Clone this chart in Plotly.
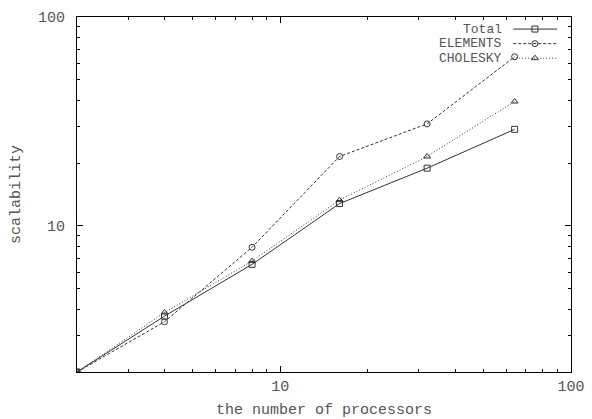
import plotly.graph_objects as go

# ---- data ----
processors = [2, 4, 8, 16, 32, 64]
total = [2.0, 3.70, 6.55, 12.8, 18.9, 29.0]
elements = [2.0, 3.48, 7.91, 21.5, 30.8, 64.5]
cholesky = [2.0, 3.85, 6.79, 13.3, 21.5, 39.4]
series_names = ["Total", "ELEMENTS", "CHOLESKY"]
x_tickvals = [10, 100]
y_tickvals = [10, 100]
minor_vals = [3, 4, 5, 6, 7, 8, 9, 20, 30, 40, 50, 60, 70, 80, 90]

# ---- style ----
FONT = "Liberation Mono, Courier New, monospace"
TXT = "#555555"
LINE = "#333333"
styles = [
    dict(dash="solid", symbol="square-open"),
    dict(dash="3px,2px", symbol="circle-open"),
    dict(dash="1px,2px", symbol="triangle-up-open"),
]
series = [total, elements, cholesky]

fig = go.Figure()
for name, ys, st in zip(series_names, series, styles):
    fig.add_trace(go.Scatter(
        x=processors, y=ys, name=name, mode="lines+markers",
        line=dict(color=LINE, width=1, dash=st["dash"]),
        marker=dict(symbol=st["symbol"], size=6, color=LINE,
                    line=dict(width=1, color=LINE)),
        showlegend=False,
    ))

# ---- manual legend (text left, sample right, like gnuplot) ----
leg_x0, leg_x1, leg_xm = 0.883, 0.972, 0.927
leg_text_x = 0.862
leg_rows = [0.966, 0.925, 0.884]
for name, st, ry in zip(series_names, styles, leg_rows):
    fig.add_trace(go.Scatter(
        x=[leg_x0, leg_x1], y=[ry, ry], mode="lines",
        line=dict(color=LINE, width=1, dash=st["dash"]),
        xaxis="x2", yaxis="y2", showlegend=False, hoverinfo="skip"))
    fig.add_trace(go.Scatter(
        x=[leg_xm], y=[ry], mode="markers",
        marker=dict(symbol=st["symbol"], size=6, color=LINE,
                    line=dict(width=1, color=LINE)),
        xaxis="x2", yaxis="y2", showlegend=False, hoverinfo="skip"))
    fig.add_annotation(x=leg_text_x, y=ry, xref="paper", yref="paper",
                       text=name, showarrow=False, xanchor="right",
                       yanchor="middle", borderpad=0,
                       font=dict(family=FONT, size=13, color=TXT))

axis_common = dict(
    type="log", showgrid=False, zeroline=False, automargin=False,
    showline=True, linecolor="#000000", linewidth=1, mirror="ticks",
    ticks="inside", ticklen=6, tickwidth=1, tickcolor="#000000",
    tickfont=dict(family=FONT, size=15, color=TXT),
    minor=dict(ticks="inside", ticklen=3, tickwidth=1, tickcolor="#000000",
               tickvals=minor_vals, showgrid=False),
)

fig.update_layout(
    width=592, height=419,
    margin=dict(l=77, r=21, t=17, b=47),
    paper_bgcolor="white", plot_bgcolor="white",
    font=dict(family=FONT, size=15, color=TXT),
    xaxis=dict(axis_common, range=[0.30103, 2], tickvals=x_tickvals,
               ticktext=[str(v) for v in x_tickvals],
               ticklabelstandoff=0,
               title=dict(text="the number of processors",
                          font=dict(family=FONT, size=15, color=TXT),
                          standoff=14)),
    yaxis=dict(axis_common, range=[0.30103, 2], tickvals=y_tickvals,
               ticktext=[str(v) for v in y_tickvals],
               ticklabelstandoff=8,
               title=dict(text="scalability",
                          font=dict(family=FONT, size=15, color=TXT),
                          standoff=13)),
    xaxis2=dict(overlaying="x", range=[0, 1], visible=False),
    yaxis2=dict(overlaying="y", range=[0, 1], visible=False),
    showlegend=False,
)

fig.write_html("out.html", config={"displayModeBar": False},
               post_script="document.body.style.margin='0';"
                           "document.body.style.overflow='hidden';")
